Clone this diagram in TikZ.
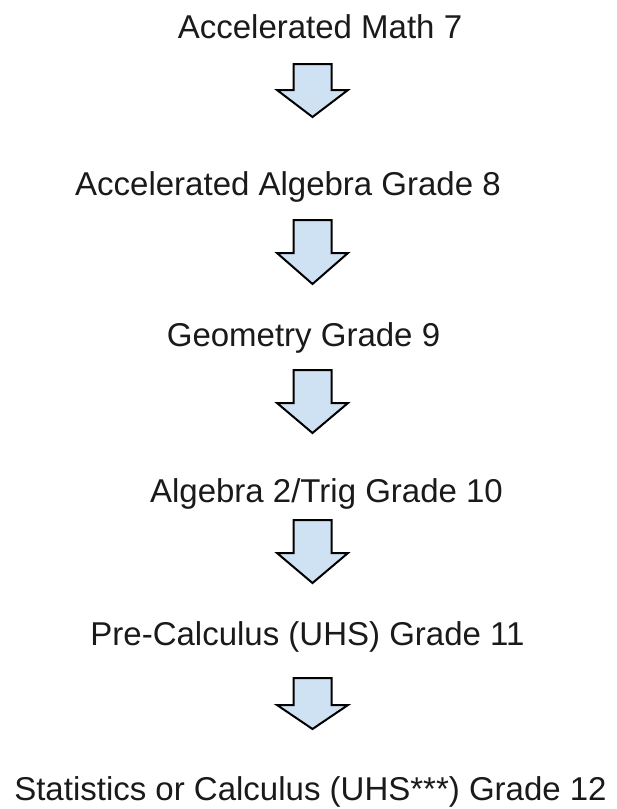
\documentclass[tikz,border=0pt]{standalone}
\usepackage{fontspec}
\setmainfont{Liberation Sans}
\definecolor{arrowfill}{HTML}{CFE2F3}
\definecolor{textcol}{HTML}{1A1A1A}
\tikzset{
  label/.style={anchor=base, inner sep=0pt, outer sep=0pt, text=textcol,
    font=\fontsize{33}{40}\selectfont},
  blockarrow/.style={draw=black, fill=arrowfill, line width=2pt, line join=miter},
  pics/downarrow/.style args={#1/#2/#3}{
    code={
      \path[blockarrow] (-19,#1) -- (19,#1) -- (19,#2) -- (35.5,#2)
        -- (0,#3) -- (-35.5,#2) -- (-19,#2) -- cycle;
    }
  }
}
\begin{document}
\begin{tikzpicture}[x=1pt,y=-1pt]
\useasboundingbox (0,0) rectangle (617,809);
\node[label] (l1) at (320,38) {Accelerated Math 7};
\node[label] (l2) at (288,195) {Accelerated Algebra Grade 8};
\node[label] (l3) at (303.5,346) {Geometry Grade 9};
\node[label] (l4) at (326.5,502) {Algebra 2/Trig Grade 10};
\node[label] (l5) at (307.5,645) {Pre-Calculus (UHS) Grade 11};
\node[label] (l6) at (310.5,800.5) {Statistics or Calculus (UHS***) Grade 12};
\pic at (312.5,0) {downarrow={64/90/117}};
\pic at (312.5,0) {downarrow={220/253/284}};
\pic at (312.5,0) {downarrow={370/403/433}};
\pic at (312.5,0) {downarrow={520/553/583}};
\pic at (312.5,0) {downarrow={678/705/729}};
\end{tikzpicture}
\end{document}
